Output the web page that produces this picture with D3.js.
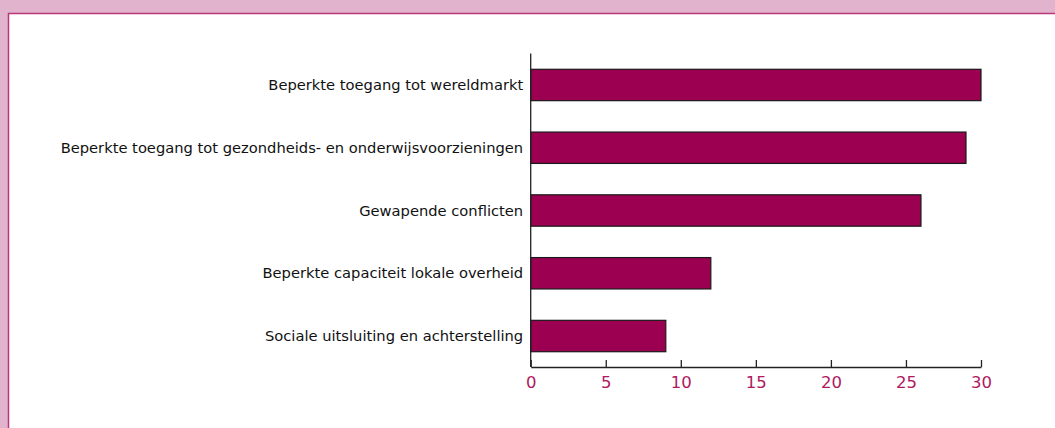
<!DOCTYPE html>
<html><head><meta charset="utf-8">
<script src="https://cdn.jsdelivr.net/npm/d3@7"></script>
<style>
html,body{margin:0;padding:0;background:#e2b3cc;}
svg{display:block;}
</style></head>
<body><svg id="c" width="1055" height="428"></svg>
<script>
const categories = [
  "Beperkte toegang tot wereldmarkt",
  "Beperkte toegang tot gezondheids- en onderwijsvoorzieningen",
  "Gewapende conflicten",
  "Beperkte capaciteit lokale overheid",
  "Sociale uitsluiting en achterstelling"
];
const values = [30, 29, 26, 12, 9];
const tickValues = [0, 5, 10, 15, 20, 25, 30];

const svg = d3.select("#c");
// panel
svg.append("rect").attr("x", 0).attr("y", 0).attr("width", 1055).attr("height", 428).attr("fill", "#e2b3cc");
svg.append("rect").attr("x", 8.5).attr("y", 13.5).attr("width", 1060).attr("height", 430)
  .attr("fill", "#fff").attr("stroke", "#b8387a").attr("stroke-width", 1.5);

const x = d3.scaleLinear().domain([0, 30]).range([530.7, 981]);
const y = d3.scaleBand().domain(categories).range([53.6, 367.4]).paddingInner(0.5).paddingOuter(0.25);

const font = "'Futura', 'Century Gothic', 'URW Gothic', 'DejaVu Sans', sans-serif";

svg.append("g").selectAll("rect").data(values).join("rect")
  .attr("x", x(0))
  .attr("y", (d, i) => y(categories[i]))
  .attr("width", d => x(d) - x(0))
  .attr("height", y.bandwidth())
  .attr("fill", "#9c0050")
  .attr("stroke", "#1a1a1a").attr("stroke-width", 1.2);

// y axis line
svg.append("line").attr("x1", x(0)).attr("x2", x(0)).attr("y1", 53.6).attr("y2", 367)
  .attr("stroke", "#222").attr("stroke-width", 1.3);

// category labels
svg.append("g").selectAll("text").data(categories).join("text")
  .attr("x", x(0) - 7.5)
  .attr("y", d => y(d) + y.bandwidth() / 2)
  .attr("dy", "0.35em")
  .attr("text-anchor", "end")
  .attr("font-family", font)
  .attr("font-size", 14.7)
  .attr("fill", "#111")
  .text(d => d);

// x axis
const xAxis = d3.axisBottom(x).tickValues(tickValues).tickSizeInner(-7).tickSizeOuter(0).tickPadding(9);
const gx = svg.append("g").attr("transform", "translate(0,367)").call(xAxis);
gx.select(".domain").attr("stroke", "#222").attr("stroke-width", 1.3);
gx.selectAll(".tick line").attr("stroke", "#222").attr("stroke-width", 1.3);
gx.selectAll(".tick text").attr("font-family", font).attr("font-size", 16.5).attr("fill", "#b0185f");
</script></body></html>
